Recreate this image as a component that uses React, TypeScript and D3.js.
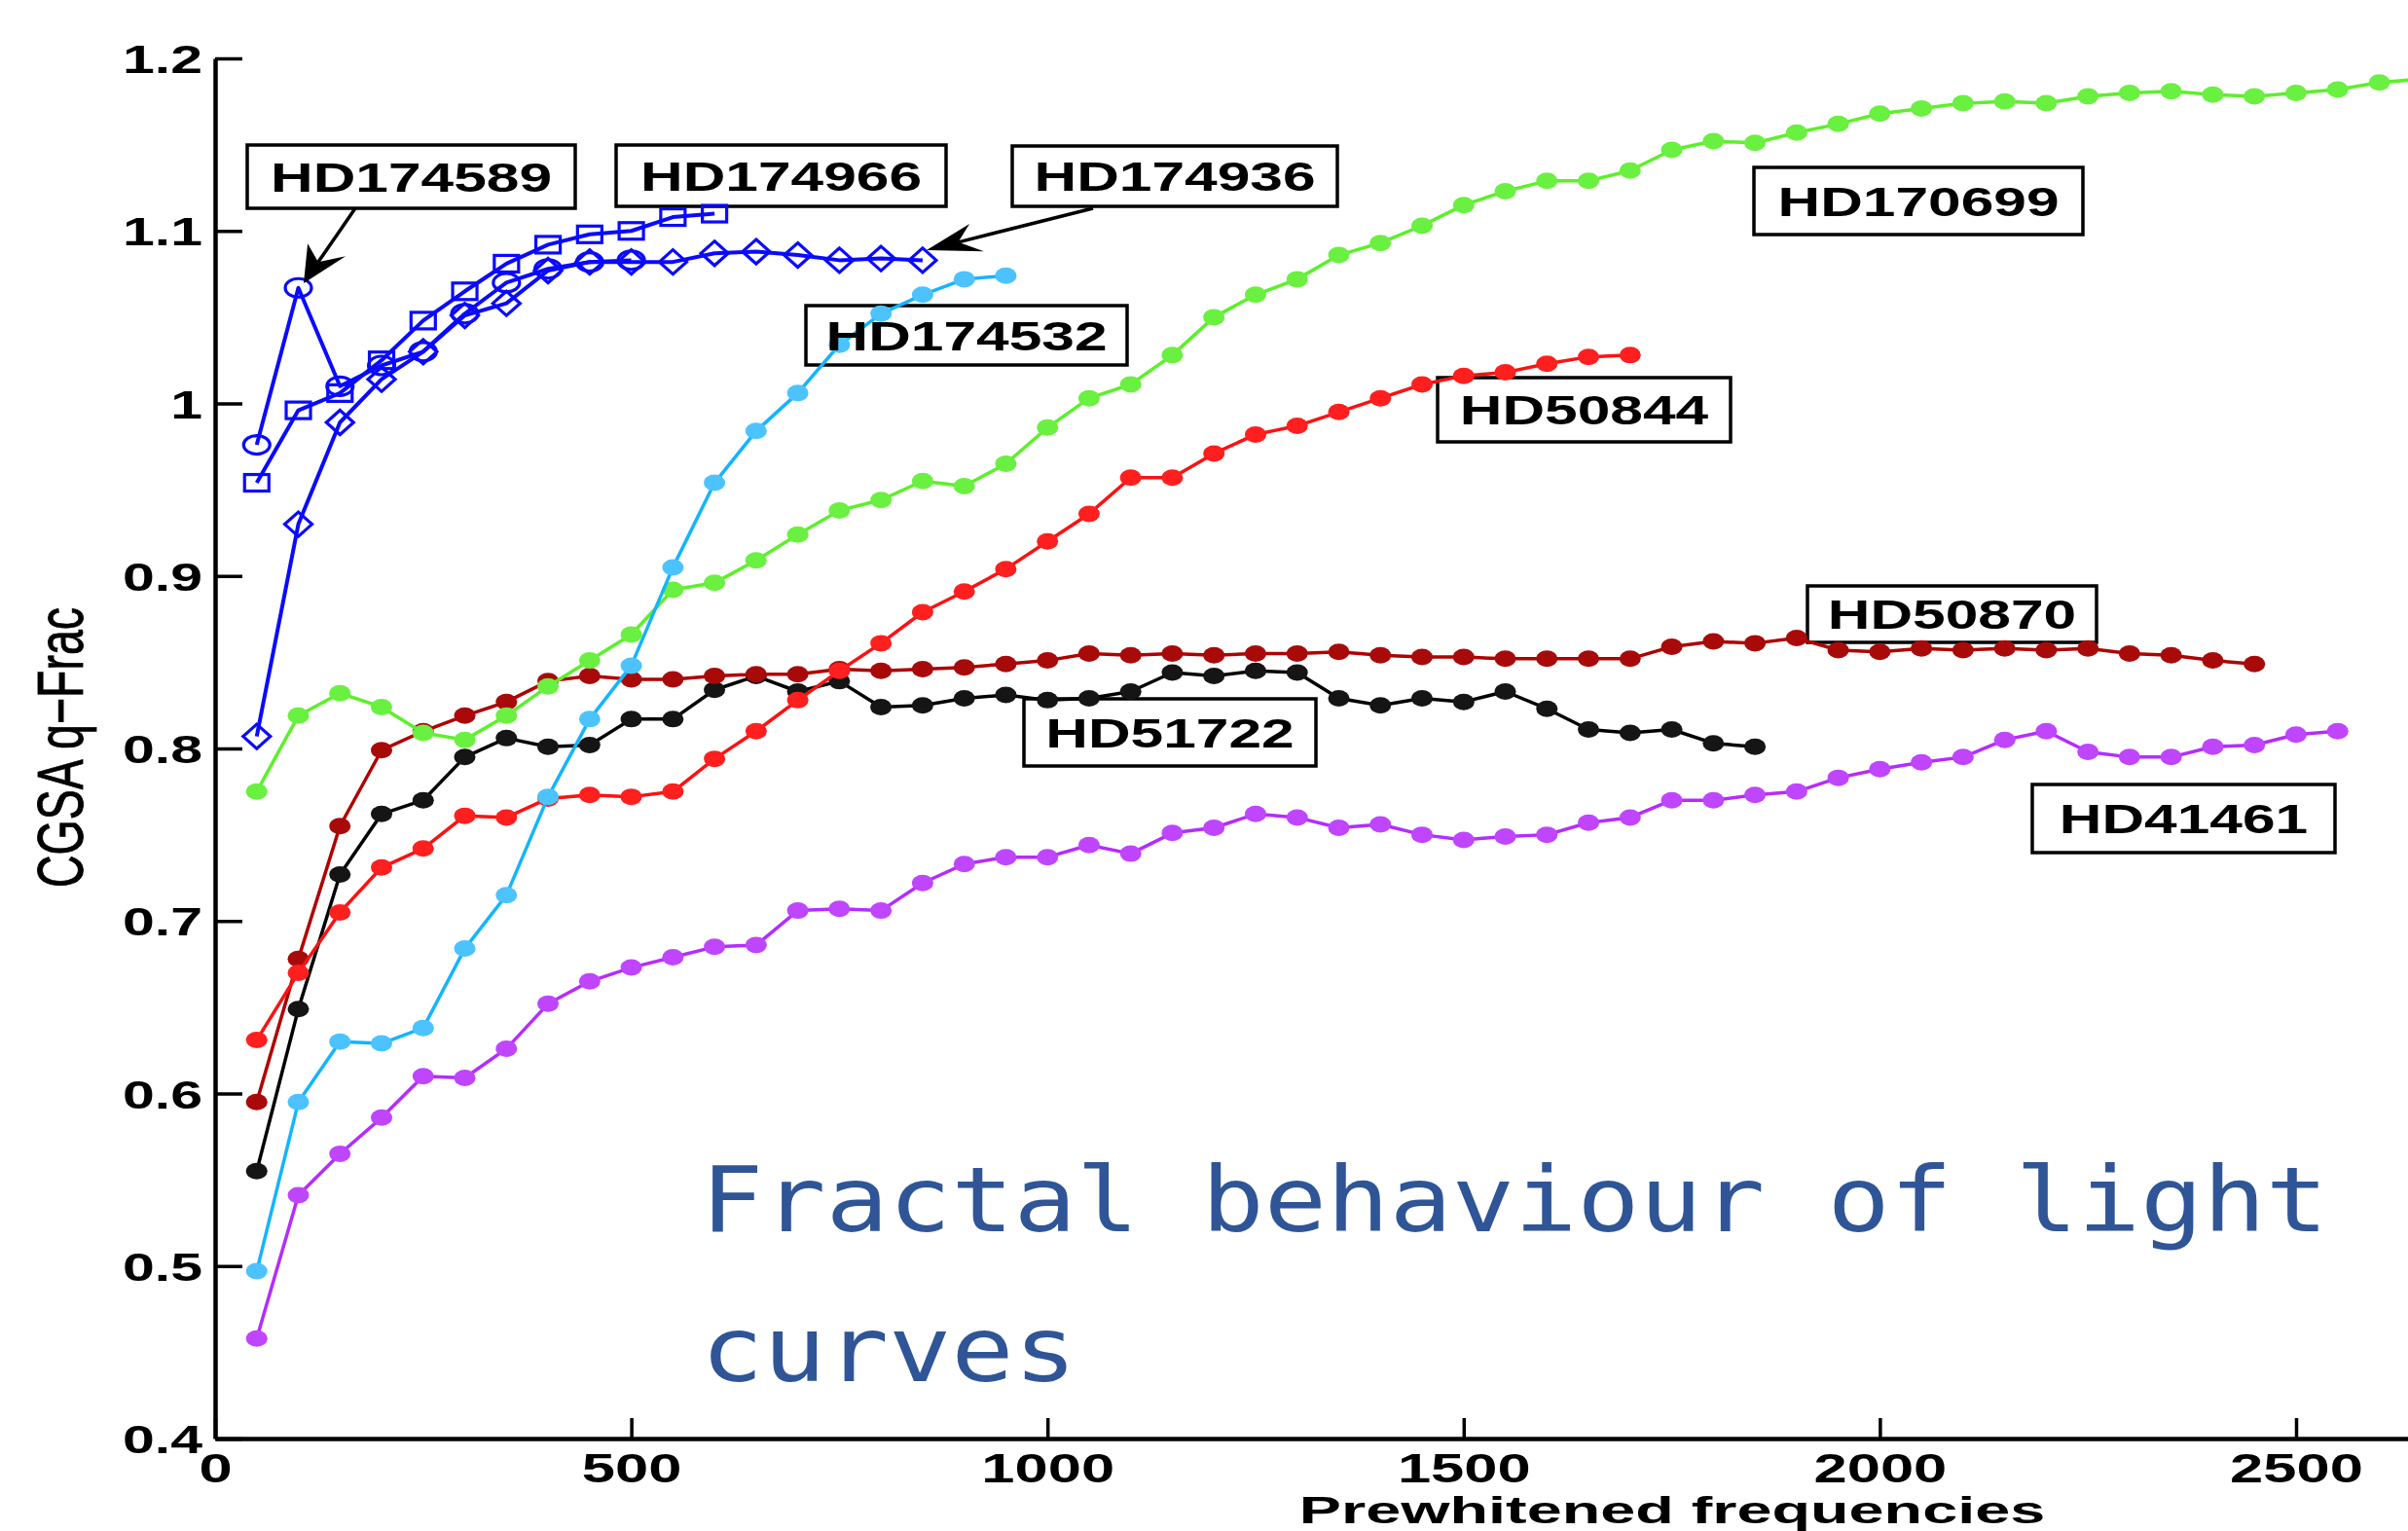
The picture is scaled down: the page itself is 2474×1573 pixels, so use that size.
import React, { useEffect, useRef } from 'react';
import * as d3 from 'd3';

// number of prewhitened frequencies at which CGSA q-Frac was evaluated
const frequencies = [
  50, 100, 150, 200, 250, 300, 350, 400, 450, 500,
  550, 600, 650, 700, 750, 800, 850, 900, 950, 1000,
  1050, 1100, 1150, 1200, 1250, 1300, 1350, 1400, 1450, 1500,
  1550, 1600, 1650, 1700, 1750, 1800, 1850, 1900, 1950, 2000,
  2050, 2100, 2150, 2200, 2250, 2300, 2350, 2400, 2450, 2500,
  2550, 2600, 2650
];

// values, one per frequency starting at 50
const hd174589 = [0.976, 1.067, 1.010, 1.022, 1.030, 1.052, 1.070, 1.078, 1.082, 1.083];
const hd174966 = [0.954, 0.996, 1.006, 1.025, 1.048, 1.065, 1.081, 1.092, 1.098, 1.100, 1.108, 1.110];
const hd174936 = [0.807, 0.930, 0.989, 1.014, 1.030, 1.051, 1.058, 1.077, 1.082, 1.082, 1.082, 1.087,
  1.088, 1.086, 1.083, 1.084, 1.083];
const hd174532 = [0.497, 0.595, 0.630, 0.629, 0.638, 0.684, 0.715, 0.772, 0.817, 0.848, 0.905, 0.954,
  0.984, 1.006, 1.034, 1.052, 1.063, 1.072, 1.074];
const hd170699 = [0.775, 0.819, 0.832, 0.824, 0.809, 0.805, 0.819, 0.836, 0.851, 0.866, 0.892, 0.896,
  0.909, 0.924, 0.938, 0.944, 0.955, 0.952, 0.965, 0.986, 1.003, 1.011, 1.028, 1.050, 1.063, 1.072,
  1.086, 1.093, 1.103, 1.115, 1.123, 1.129, 1.129, 1.135, 1.147, 1.152, 1.151, 1.157, 1.162, 1.168,
  1.171, 1.174, 1.175, 1.174, 1.178, 1.180, 1.181, 1.179, 1.178, 1.180, 1.182, 1.186, 1.188];
const hd50844 = [0.631, 0.670, 0.705, 0.731, 0.742, 0.761, 0.760, 0.771, 0.773, 0.772, 0.775, 0.794,
  0.810, 0.828, 0.845, 0.861, 0.879, 0.891, 0.904, 0.920, 0.936, 0.957, 0.957, 0.971, 0.982, 0.987,
  0.995, 1.003, 1.011, 1.016, 1.018, 1.023, 1.027, 1.028];
const hd50870 = [0.595, 0.678, 0.755, 0.799, 0.810, 0.819, 0.827, 0.839, 0.842, 0.840, 0.840, 0.842,
  0.843, 0.843, 0.846, 0.845, 0.846, 0.847, 0.849, 0.851, 0.855, 0.854, 0.855, 0.854, 0.855, 0.855,
  0.856, 0.854, 0.853, 0.853, 0.852, 0.852, 0.852, 0.852, 0.859, 0.862, 0.861, 0.864, 0.857, 0.856,
  0.858, 0.857, 0.858, 0.857, 0.858, 0.855, 0.854, 0.851, 0.849];
const hd51722 = [0.555, 0.649, 0.727, 0.762, 0.770, 0.795, 0.806, 0.801, 0.802, 0.817, 0.817, 0.834,
  0.842, 0.833, 0.839, 0.824, 0.825, 0.829, 0.831, 0.828, 0.829, 0.833, 0.844, 0.842, 0.845, 0.844,
  0.829, 0.825, 0.829, 0.827, 0.833, 0.823, 0.811, 0.809, 0.811, 0.803, 0.801];
const hd41461 = [0.458, 0.541, 0.565, 0.586, 0.610, 0.609, 0.626, 0.652, 0.665, 0.673, 0.679, 0.685,
  0.686, 0.706, 0.707, 0.706, 0.722, 0.733, 0.737, 0.737, 0.744, 0.739, 0.751, 0.754, 0.762, 0.760,
  0.754, 0.756, 0.750, 0.747, 0.749, 0.750, 0.757, 0.760, 0.770, 0.770, 0.773, 0.775, 0.783, 0.788,
  0.792, 0.795, 0.805, 0.810, 0.798, 0.795, 0.795, 0.801, 0.802, 0.808, 0.810];

const xTicks = [0, 500, 1000, 1500, 2000, 2500];
const xTickLabels = ['0', '500', '1000', '1500', '2000', '2500'];
const yTicks = [0.4, 0.5, 0.6, 0.7, 0.8, 0.9, 1.0, 1.1, 1.2];
const yTickLabels = ['0.4', '0.5', '0.6', '0.7', '0.8', '0.9', '1', '1.1', '1.2'];

const titleLines = ['Fractal behaviour of light', 'curves'];

const W = 2474;
const H = 1573;
const SX = 1.44; // the figure is stretched horizontally, text too
const FONT = '"Liberation Sans", Arial, Helvetica, sans-serif';

// draw order: last one on top
const series = [
  { name: 'HD41461', values: hd41461, color: '#b42cff', fill: '#bf45ff', marker: 'dot' },
  { name: 'HD51722', values: hd51722, color: '#000000', fill: '#151515', marker: 'dot' },
  { name: 'HD50870', values: hd50870, color: '#b00000', fill: '#a80a0a', marker: 'dot' },
  { name: 'HD50844', values: hd50844, color: '#ff1010', fill: '#ff1f1f', marker: 'dot' },
  { name: 'HD170699', values: hd170699, color: '#5cf02a', fill: '#6af040', marker: 'dot' },
  { name: 'HD174532', values: hd174532, color: '#14b4ff', fill: '#4cc3ff', marker: 'dot' },
  { name: 'HD174936', values: hd174936, color: '#0a0aff', fill: 'none', marker: 'diamond' },
  { name: 'HD174966', values: hd174966, color: '#0a0aff', fill: 'none', marker: 'square' },
  { name: 'HD174589', values: hd174589, color: '#0a0aff', fill: 'none', marker: 'circle' }
];

// annotation boxes (pixel layout)
const labelBoxes = [
  { name: 'HD174589', x: 254, y: 149, w: 337, h: 65 },
  { name: 'HD174966', x: 633, y: 149, w: 339, h: 63 },
  { name: 'HD174936', x: 1040, y: 150, w: 334, h: 62 },
  { name: 'HD174532', x: 828, y: 314, w: 330, h: 61 },
  { name: 'HD170699', x: 1802, y: 172, w: 338, h: 69 },
  { name: 'HD50844', x: 1477, y: 388, w: 301, h: 66 },
  { name: 'HD50870', x: 1857, y: 602, w: 297, h: 58 },
  { name: 'HD51722', x: 1052, y: 718, w: 300, h: 69 },
  { name: 'HD41461', x: 2088, y: 806, w: 311, h: 70 }
];

const arrows = [
  { from: [365, 214], to: [312, 291] },
  { from: [1123, 214], to: [952, 257] }
];

function arrowHead(x1, y1, x2, y2) {
  // built in unstretched space, then stretched back
  const ux = (x2 - x1) / SX;
  const uy = y2 - y1;
  const len = Math.hypot(ux, uy);
  const bx = -ux / len;
  const by = -uy / len;
  const nx = -by;
  const ny = bx;
  const L = 38, Wd = 15, N = 24;
  const pts = [
    [0, 0],
    [L * bx + Wd * nx, L * by + Wd * ny],
    [N * bx, N * by],
    [L * bx - Wd * nx, L * by - Wd * ny]
  ].map(([a, b]) => [x2 + a * SX, y2 + b]);
  return {
    d: 'M' + pts.map(p => p.join(',')).join('L') + 'Z',
    notch: pts[2]
  };
}

export default function App() {
  const svgRef = useRef(null);

  useEffect(() => {
    const svg = d3.select(svgRef.current);
    svg.selectAll('*').remove();

    const x = d3.scaleLinear().domain([0, 2500]).range([221, 2359]);
    const y = d3.scaleLinear().domain([0.4, 1.2]).range([1478, 60]);
    const xAxisScale = x.copy().domain([0, x.invert(W)]).range([221, W]);

    svg.append('rect').attr('width', W).attr('height', H).attr('fill', '#fff');

    // Axis //
    const xAxis = d3.axisBottom(xAxisScale)
      .tickValues(xTicks)
      .tickSize(-21)
      .tickSizeOuter(0)
      .tickFormat((d, i) => xTickLabels[i]);

    const gx = svg.append('g')
      .attr('transform', `translate(0, ${y(0.4)})`)
      .call(xAxis)
      .attr('font-family', FONT)
      .attr('font-size', 41);
    gx.select('.domain').attr('stroke', '#000').attr('stroke-width', 4.5);
    gx.selectAll('.tick line').attr('stroke', '#000').attr('stroke-width', 3.5);
    gx.selectAll('.tick text')
      .attr('y', null)
      .attr('dy', null)
      .attr('fill', '#000')
      .attr('font-weight', 'bold')
      .attr('transform', `translate(0, 45) scale(1.5, 1.04)`);

    const yAxis = d3.axisLeft(y)
      .tickValues(yTicks)
      .tickSize(-28)
      .tickSizeOuter(0)
      .tickFormat((d, i) => yTickLabels[i]);

    const gy = svg.append('g')
      .attr('transform', `translate(${x(0)}, 0)`)
      .call(yAxis)
      .attr('font-family', FONT)
      .attr('font-size', 41);
    gy.select('.domain').attr('stroke', '#000').attr('stroke-width', 4.5);
    gy.selectAll('.tick line').attr('stroke', '#000').attr('stroke-width', 3.5);
    gy.selectAll('.tick text')
      .attr('x', null)
      .attr('dy', null)
      .attr('fill', '#000')
      .attr('font-weight', 'bold')
      .attr('text-anchor', 'end')
      .attr('transform', `translate(-13, 14.5) scale(${SX}, 1)`);

    // axis titles
    svg.append('text')
      .attr('transform', `translate(85, 768) scale(${SX}, 1) rotate(-90)`)
      .attr('text-anchor', 'middle')
      .attr('font-family', FONT)
      .attr('font-size', 46.5)
      .attr('fill', '#000')
      .attr('stroke', '#000')
      .attr('stroke-width', 0.6)
      .text('CGSA q\u2212Frac');

    svg.append('text')
      .attr('transform', `translate(1718, 1565) scale(1.85, 1.12)`)
      .attr('text-anchor', 'middle')
      .attr('font-family', FONT)
      .attr('font-size', 35)
      .attr('font-weight', 'bold')
      .attr('fill', '#000')
      .text('Prewhitened frequencies');

    // Label boxes (under the lines) //
    svg.append('g')
      .selectAll('rect')
      .data(labelBoxes)
      .enter()
      .append('rect')
      .attr('x', d => d.x)
      .attr('y', d => d.y)
      .attr('width', d => d.w)
      .attr('height', d => d.h)
      .attr('fill', '#fff')
      .attr('stroke', '#000')
      .attr('stroke-width', 3.5);

    // Lines and markers //
    const line = d3.line()
      .x((d, i) => x(frequencies[i]))
      .y(d => y(d));

    series.forEach(s => {
      const g = svg.append('g');
      const blue = s.marker !== 'dot';
      g.append('path')
        .datum(s.values)
        .attr('fill', 'none')
        .attr('stroke', s.color)
        .attr('stroke-width', blue ? 4 : 3.5)
        .attr('stroke-linejoin', 'round')
        .attr('d', line);

      const pts = g.selectAll('.pt')
        .data(s.values)
        .enter();

      if (s.marker === 'dot') {
        pts.append('ellipse')
          .attr('cx', (d, i) => x(frequencies[i]))
          .attr('cy', d => y(d))
          .attr('rx', 11)
          .attr('ry', 8.5)
          .attr('fill', s.fill);
      } else if (s.marker === 'circle') {
        pts.append('ellipse')
          .attr('cx', (d, i) => x(frequencies[i]))
          .attr('cy', d => y(d))
          .attr('rx', 13.5)
          .attr('ry', 9.5)
          .attr('fill', 'none')
          .attr('stroke', s.color)
          .attr('stroke-width', 3.2);
      } else if (s.marker === 'square') {
        pts.append('rect')
          .attr('x', (d, i) => x(frequencies[i]) - 12.5)
          .attr('y', d => y(d) - 8.5)
          .attr('width', 25)
          .attr('height', 17)
          .attr('fill', 'none')
          .attr('stroke', s.color)
          .attr('stroke-width', 3.2);
      } else {
        pts.append('path')
          .attr('d', (d, i) => {
            const cx = x(frequencies[i]);
            const cy = y(d);
            return `M${cx},${cy - 12.5}L${cx + 14},${cy}L${cx},${cy + 12.5}L${cx - 14},${cy}Z`;
          })
          .attr('fill', 'none')
          .attr('stroke', s.color)
          .attr('stroke-width', 3.2);
      }
    });

    // Label texts //
    svg.append('g')
      .selectAll('text')
      .data(labelBoxes)
      .enter()
      .append('text')
      .attr('transform', d => `translate(${d.x + d.w / 2}, ${d.y + d.h / 2 + 15}) scale(${SX}, 1)`)
      .attr('text-anchor', 'middle')
      .attr('font-family', FONT)
      .attr('font-size', 42)
      .attr('font-weight', 'bold')
      .attr('fill', '#000')
      .text(d => d.name);

    // Arrows //
    arrows.forEach(a => {
      const head = arrowHead(a.from[0], a.from[1], a.to[0], a.to[1]);
      svg.append('line')
        .attr('x1', a.from[0])
        .attr('y1', a.from[1])
        .attr('x2', head.notch[0])
        .attr('y2', head.notch[1])
        .attr('stroke', '#000')
        .attr('stroke-width', 3.5);
      svg.append('path')
        .attr('d', head.d)
        .attr('fill', '#000');
    });

    // Overlaid caption //
    const caption = svg.append('g')
      .attr('font-family', '"DejaVu Sans Mono", monospace')
      .attr('font-size', 93)
      .attr('fill', '#2f5597');
    caption.append('text')
      .attr('x', 720)
      .attr('y', 1265)
      .attr('textLength', 1672)
      .attr('lengthAdjust', 'spacingAndGlyphs')
      .text(titleLines[0]);
    caption.append('text')
      .attr('x', 720)
      .attr('y', 1419)
      .attr('textLength', 386)
      .attr('lengthAdjust', 'spacingAndGlyphs')
      .text(titleLines[1]);
  }, []);

  return (
    <svg
      ref={svgRef}
      width={W}
      height={H}
      style={{ position: 'absolute', left: 0, top: 0, display: 'block' }}
    />
  );
}
